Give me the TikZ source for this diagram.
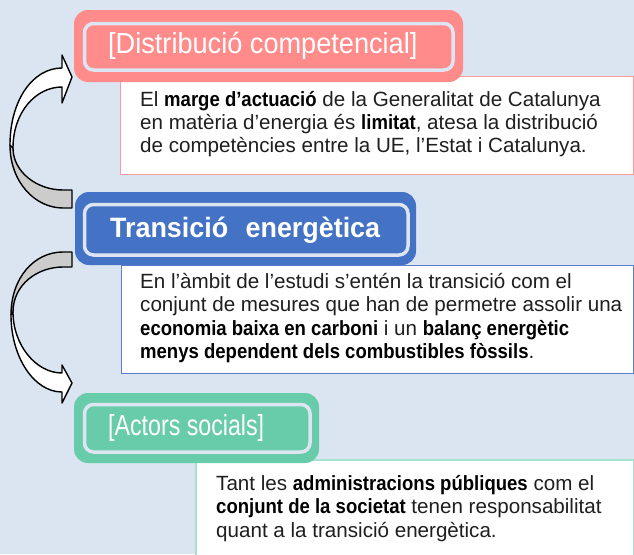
\documentclass[tikz,border=0pt]{standalone}
\usepackage{fontspec}
\setmainfont{Liberation Sans}[BoldFeatures={FakeStretch=0.9}]
\newfontfamily\titleAfont{Liberation Sans}[FakeStretch=0.936]
\newfontfamily\titleCfont{Liberation Sans}[FakeStretch=0.80]
\newfontfamily\titleBfont{Liberation Sans}[FakeStretch=0.96]
\definecolor{bgcol}{HTML}{DBE5F1}
\definecolor{salmon}{HTML}{FF8B8B}
\definecolor{salmonline}{HTML}{FF9B9B}
\definecolor{bluehdr}{HTML}{4472C4}
\definecolor{blueline}{HTML}{5B7FC9}
\definecolor{greenhdr}{HTML}{68CCAA}
\definecolor{greenline}{HTML}{A6E3CF}
\definecolor{innerline}{HTML}{DDE5F3}
\definecolor{arrowgray}{HTML}{CCCCCC}
\definecolor{bodytext}{HTML}{1F1F1F}
\begin{document}
\begin{tikzpicture}[x=1pt,y=-1pt,
  hdrouter/.style={rounded corners=14pt, draw=none},
  hdrinner/.style={rounded corners=9pt, draw=innerline, line width=3.5pt},
  bodybox/.style={fill=white, line width=1pt},
  bodyline/.style={anchor=base west, inner sep=0pt, text=bodytext,
    font=\fontsize{20.6}{24}\selectfont},
  titletext/.style={anchor=base west, inner sep=0pt, text=white},
  arrowfront/.style={fill=white, draw=black, line width=1.4pt, line join=round},
  arrowback/.style={fill=arrowgray, draw=black, line width=1.4pt, line join=round}]
\fill[bgcol] (0,0) rectangle (634,554);
\useasboundingbox (0,0) rectangle (634,554);

% ---- body boxes
\draw[bodybox, draw=salmonline] (120,76) rectangle (633.5,174);
\draw[bodybox, draw=blueline] (121,265) rectangle (633.5,373);
\draw[bodybox, draw=greenline, line width=1.5pt] (196,460) rectangle (633.5,560);

% ---- headers
\fill[hdrouter, salmon] (74,10) rectangle (463,82);
\draw[hdrinner, fill=salmon] (84.5,23.5) rectangle (453,70);
\fill[hdrouter, bluehdr] (75,192) rectangle (416,265);
\draw[hdrinner, fill=bluehdr] (84.5,204.5) rectangle (408,255);
\fill[hdrouter, greenhdr] (74,393) rectangle (319,463);
\draw[hdrinner, fill=greenhdr] (84.5,404.5) rectangle (310,452);

\node[titletext, font=\titleAfont\fontsize{29}{32}\selectfont] (h1) at (108,53) {[Distribució competencial]};
\node[titletext, font=\titleBfont\bfseries\fontsize{28}{32}\selectfont] (h2) at (110,237) {Transició\hspace{10pt} energètica};
\node[titletext, font=\titleCfont\fontsize{29}{32}\selectfont] (h3) at (108,435) {[Actors socials]};

% ---- body text
\node[bodyline] (t1a) at (140,106) {El \textbf{\color{black}marge d’actuació} de la Generalitat de Catalunya};
\node[bodyline] (t1b) at (140,129) {en matèria d’energia és \textbf{\color{black}limitat}, atesa la distribució};
\node[bodyline] (t1c) at (140,152) {de competències entre la UE, l’Estat i Catalunya.};

\node[bodyline] (t2a) at (140,288) {En l’àmbit de l’estudi s’entén la transició com el};
\node[bodyline] (t2b) at (140,311) {conjunt de mesures que han de permetre assolir una};
\node[bodyline] (t2c) at (140,335) {\textbf{\color{black}economia baixa en carboni} i un \textbf{\color{black}balanç energètic}};
\node[bodyline] (t2d) at (140,358) {\textbf{\color{black}menys dependent dels combustibles fòssils}.};

\node[bodyline] (t3a) at (216,490) {Tant les \textbf{\color{black}administracions públiques} com el};
\node[bodyline] (t3b) at (216,513) {\textbf{\color{black}conjunt de la societat} tenen responsabilitat};
\node[bodyline] (t3c) at (216,537) {quant a la transició energètica.};

% ---- curved arrow 1 (up, to Distribució)
\draw[arrowback] (10,145) .. controls (10,182) and (35,208) .. (63,208) -- (72,208) -- (72,190) -- (63,190)
  .. controls (37,190) and (13,172) .. (13,148) -- cycle;
\draw[arrowfront] (10,145) .. controls (10,100) and (33,68) .. (62,68) -- (62,55) -- (72,77) -- (62,103) -- (62,87)
  .. controls (36,87) and (13,112) .. (13,148) -- cycle;

% ---- curved arrow 2 (down, to Actors)
\draw[arrowback] (72,252) -- (63,252) .. controls (34,252) and (11,278) .. (11,315) -- (13,312)
  .. controls (13,285) and (37,267) .. (63,267) -- (72,267) -- cycle;
\draw[arrowfront] (11,315) .. controls (11,357) and (34,392) .. (62,392) -- (62,403) -- (72,383) -- (62,365) -- (62,373)
  .. controls (36,373) and (13,345) .. (13,312) -- cycle;
\end{tikzpicture}
\end{document}
